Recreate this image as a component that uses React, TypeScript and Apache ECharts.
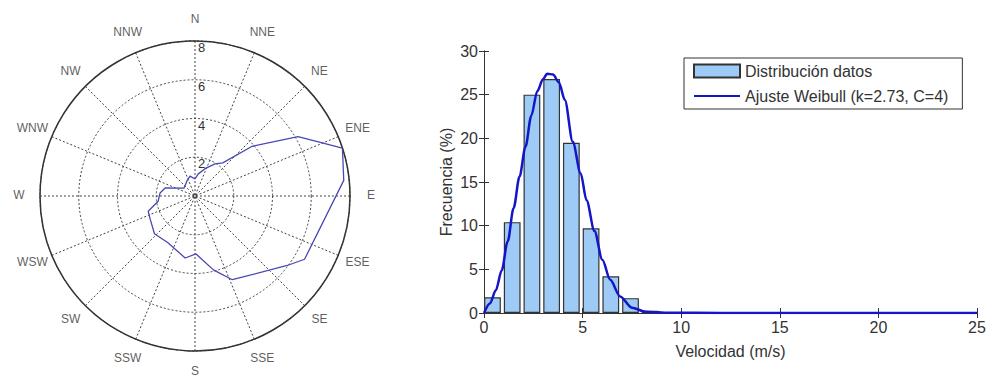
import React, { useEffect, useRef } from "react";
import * as echarts from "echarts";

// ---- Wind rose (left) ----
const directions = ["N", "NNE", "NE", "ENE", "E", "ESE", "SE", "SSE", "S", "SSW", "SW", "WSW", "W", "WNW", "NW", "NNW"];
const roseAngles = [0, 8, 20, 32, 40, 49, 60, 72, 84, 120, 127, 156, 166, 179, 189, 210, 227, 243, 252, 262, 275, 285, 306, 332, 346, 360];
const roseValues = [0.88, 1.14, 1.5, 1.95, 2.23, 3.91, 6.14, 8.0, 7.72, 6.53, 5.96, 4.73, 3.93, 2.99, 3.24, 2.79, 2.86, 2.6, 2.54, 1.92, 1.81, 1.6, 0.7, 0.88, 1.06, 0.88];
const radiusTicks = [0, 2, 4, 6, 8];

// ---- Histogram + Weibull fit (right) ----
const binCenters = [0.43, 1.43, 2.43, 3.43, 4.43, 5.43, 6.43, 7.43, 8.43, 9.43, 10.43, 11.43, 12.43, 13.43, 14.43];
const binValues = [1.8, 10.4, 25.0, 26.8, 19.5, 9.7, 4.2, 1.7, 0.25, 0.12, 0.1, 0.1, 0.08, 0.06, 0.05];
const weibullX = [0, 0.3, 0.6, 0.9, 1.2, 1.5, 1.8, 2.1, 2.4, 2.7, 3.0, 3.2, 3.5, 3.8, 4.1, 4.5, 4.9, 5.2, 5.6, 6.0, 6.4, 6.9, 7.5, 8.2, 9.4, 12, 15, 20, 25];
const weibullY = [0, 1.1, 2.6, 4.9, 8.2, 12.0, 15.6, 19.0, 22.6, 25.4, 26.8, 27.4, 27.3, 26.4, 24.4, 19.6, 16.0, 12.9, 9.4, 6.1, 3.8, 1.9, 0.6, 0.15, 0.03, 0, 0, 0, 0];
const xTicks = { min: 0, max: 25, interval: 5 };
const yTicks = { min: 0, max: 30, interval: 5 };
const barName = "Distribución datos";
const lineName = "Ajuste Weibull (k=2.73, C=4)";

const FONT = "'Liberation Sans', Arial, sans-serif";
const TXT = "#333";

export default function App() {
  const ref = useRef<HTMLDivElement>(null);
  useEffect(() => {
    if (!ref.current) return;
    const chart = echarts.init(ref.current, null, { renderer: "svg" });
    const hiddenAxisBits = {
      axisLine: { show: false },
      axisTick: { show: false },
      axisLabel: { show: false },
      splitLine: { show: false },
    };
    const option: any = {
      animation: false,
      backgroundColor: "#fff",
      textStyle: { fontFamily: FONT },
      polar: [
        { center: [195, 196], radius: 155 },
        { center: [195, 195], radius: 176 },
      ],
      angleAxis: [
        {
          polarIndex: 0,
          type: "value",
          min: 0,
          max: 360,
          interval: 22.5,
          startAngle: 90,
          clockwise: true,
          axisLine: { show: true, lineStyle: { color: "#333", width: 1.5 } },
          axisTick: { show: false },
          axisLabel: { show: false },
          splitLine: { show: true, lineStyle: { color: "#444", width: 1, type: [2, 2] } },
        },
        {
          polarIndex: 1,
          type: "value",
          min: 0,
          max: 360,
          startAngle: 90,
          clockwise: true,
          ...hiddenAxisBits,
        },
      ],
      radiusAxis: [
        {
          polarIndex: 0,
          type: "value",
          min: radiusTicks[0],
          max: radiusTicks[radiusTicks.length - 1],
          interval: radiusTicks[1] - radiusTicks[0],
          axisLine: { show: false },
          axisTick: { show: false },
          axisLabel: {
            show: true,
            color: TXT,
            fontSize: 13,
            fontFamily: FONT,
            margin: -3,
            align: "left",
            verticalAlign: "top",
            formatter: (v: number) => (v === 0 ? "" : String(v)),
          },
          splitLine: { show: true, lineStyle: { color: "#444", width: 1, type: [2, 2] } },
        },
        { polarIndex: 1, type: "value", min: 0, max: 1, ...hiddenAxisBits },
      ],
      grid: { left: 484, right: 12, top: 51, bottom: 67 },
      xAxis: [
        {
          type: "value",
          position: "bottom",
          ...xTicks,
          name: "Velocidad (m/s)",
          nameLocation: "middle",
          nameGap: 30,
          nameTextStyle: { color: TXT, fontSize: 16, fontFamily: FONT },
          axisLine: { show: true, lineStyle: { color: "#333" } },
          axisTick: { show: true, inside: true, length: 5, lineStyle: { color: "#333" } },
          axisLabel: { color: TXT, fontSize: 16, fontFamily: FONT, margin: 6 },
          splitLine: { show: false },
        },
        {
          type: "value",
          position: "top",
          ...xTicks,
          axisLine: { show: true, lineStyle: { color: "#333" } },
          axisTick: { show: true, inside: true, length: 5, lineStyle: { color: "#333" } },
          axisLabel: { show: false },
          splitLine: { show: false },
        },
      ],
      yAxis: [
        {
          type: "value",
          position: "left",
          ...yTicks,
          name: "Frecuencia (%)",
          nameLocation: "middle",
          nameGap: 30,
          nameTextStyle: { color: TXT, fontSize: 16, fontFamily: FONT },
          axisLine: { show: true, lineStyle: { color: "#333" } },
          axisTick: { show: true, inside: true, length: 5, lineStyle: { color: "#333" } },
          axisLabel: { color: TXT, fontSize: 16, fontFamily: FONT, margin: 6 },
          splitLine: { show: false },
        },
        {
          type: "value",
          position: "right",
          ...yTicks,
          axisLine: { show: true, lineStyle: { color: "#333" } },
          axisTick: { show: true, inside: true, length: 5, lineStyle: { color: "#333" } },
          axisLabel: { show: false },
          splitLine: { show: false },
        },
      ],
      legend: {
        orient: "vertical",
        left: 684,
        top: 58,
        itemWidth: 46,
        itemHeight: 13,
        itemGap: 9,
        padding: [5, 14, 5, 9],
        borderColor: "#333",
        borderWidth: 1,
        backgroundColor: "#fff",
        textStyle: { color: TXT, fontSize: 16, fontFamily: FONT },
        data: [
          { name: barName, icon: "rect" },
          { name: lineName, itemStyle: { opacity: 0 } },
        ],
      },
      series: [
        {
          type: "line",
          name: "rose",
          coordinateSystem: "polar",
          polarIndex: 0,
          data: roseAngles.map((a, i) => [roseValues[i], a]),
          symbol: "none",
          lineStyle: { color: "#4848b4", width: 1.3 },
          z: 5,
        },
        {
          type: "scatter",
          name: "compass",
          coordinateSystem: "polar",
          polarIndex: 1,
          symbolSize: 1,
          itemStyle: { color: "rgba(0,0,0,0)" },
          data: directions.map((d, i) => ({ name: d, value: [1, (i * 360) / directions.length] })),
          label: {
            show: true,
            position: "inside",
            formatter: "{b}",
            color: TXT,
            fontSize: 12,
            fontFamily: FONT,
          },
        },
        {
          type: "bar",
          name: barName,
          xAxisIndex: 0,
          yAxisIndex: 0,
          data: binCenters.map((c, i) => [c, binValues[i]]),
          barWidth: "85%",
          itemStyle: { color: "#9dcbf5", borderColor: "#333", borderWidth: 1.2 },
        },
        {
          type: "line",
          name: lineName,
          xAxisIndex: 0,
          yAxisIndex: 0,
          data: weibullX.map((x, i) => [x, weibullY[i]]),
          symbol: "none",
          showSymbol: false,
          smooth: 0.3,
          smoothMonotone: "x",
          lineStyle: { color: "#1414c8", width: 2.5 },
          itemStyle: { color: "#1414c8" },
          z: 4,
        },
      ],
    };
    chart.setOption(option);
    return () => chart.dispose();
  }, []);
  return (
    <div
      ref={ref}
      style={{ position: "fixed", left: 0, top: 0, width: 989, height: 380, background: "#fff" }}
    />
  );
}
